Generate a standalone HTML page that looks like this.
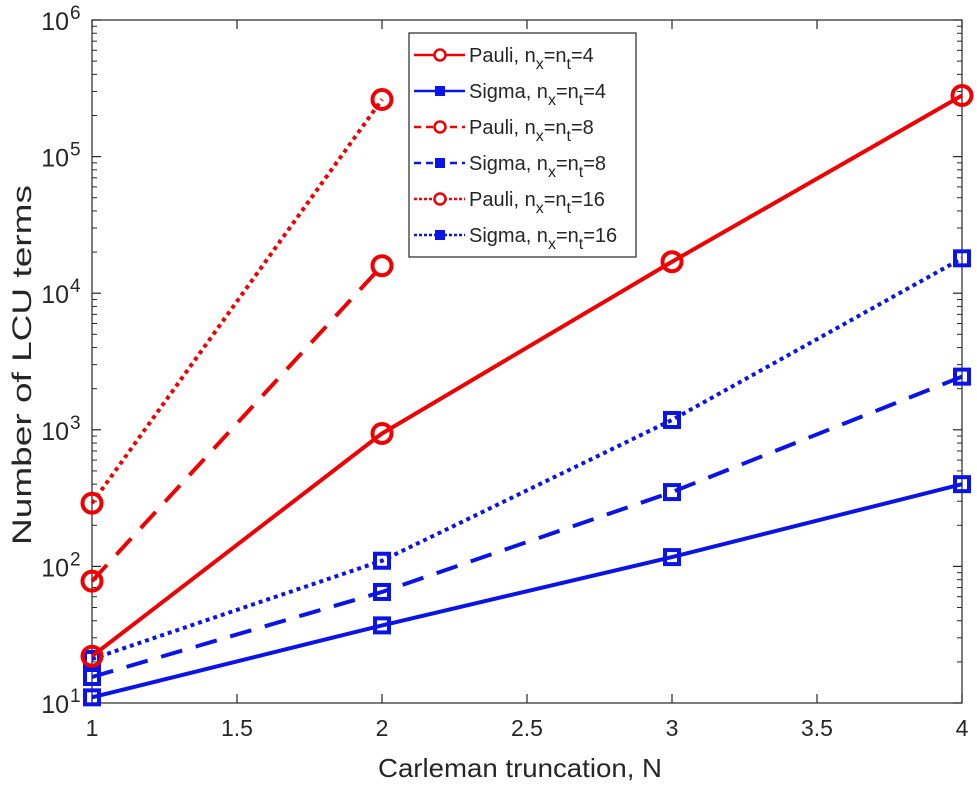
<!DOCTYPE html>
<html><head><meta charset="utf-8"><style>
html,body{margin:0;padding:0;background:#fff;}
svg{display:block;font-family:"Liberation Sans",Arial,sans-serif;}
</style></head><body>
<svg id="chart" width="977" height="785" viewBox="0 0 977 785" xmlns="http://www.w3.org/2000/svg"></svg>
<script>
const xValues = [1, 2, 3, 4];
const pauli4 = [22, 940, 17000, 280000];
const sigma4 = [11, 37, 117, 400];
const pauli8 = [78, 15900];
const sigma8 = [15.5, 65, 350, 2450];
const pauli16 = [290, 262000];
const sigma16 = [21, 110, 1180, 18000];
const xTicks = [1, 1.5, 2, 2.5, 3, 3.5, 4];
const yDecades = [1, 2, 3, 4, 5, 6];

const L = 92, R = 962, T = 20, B = 703;
const NS = "http://www.w3.org/2000/svg";
const svg = document.getElementById('chart');
function xs(v){ return L + (v - 1) / 3 * (R - L); }
function ys(v){ return B - (Math.log10(v) - 1) / 5 * (B - T); }
function el(tag, attrs, parent){
  const e = document.createElementNS(NS, tag);
  for (const k in attrs) e.setAttribute(k, attrs[k]);
  (parent || svg).appendChild(e);
  return e;
}

const box = el('rect', {x:L, y:T, width:R-L, height:B-T, fill:'none', stroke:'#262626', 'stroke-width':1.2});



xTicks.forEach(t => {
  const x = xs(t);
  el('line', {x1:x, y1:B, x2:x, y2:B-9, stroke:'#262626', 'stroke-width':1.2});
  el('line', {x1:x, y1:T, x2:x, y2:T+9, stroke:'#262626', 'stroke-width':1.2});
  const tx = el('text', {x:x, y:B+33, 'font-size':23, fill:'#262626', 'text-anchor':'middle'});
  tx.textContent = String(t);
  
  
});

yDecades.forEach(d => {
  const y = ys(Math.pow(10, d));
  el('line', {x1:L, y1:y, x2:L+9, y2:y, stroke:'#262626', 'stroke-width':1.2});
  el('line', {x1:R, y1:y, x2:R-9, y2:y, stroke:'#262626', 'stroke-width':1.2});
  if (d < 6) {
    for (let m = 2; m <= 9; m++) {
      const ym = ys(m * Math.pow(10, d));
      el('line', {x1:L, y1:ym, x2:L+5, y2:ym, stroke:'#262626', 'stroke-width':1});
      el('line', {x1:R, y1:ym, x2:R-5, y2:ym, stroke:'#262626', 'stroke-width':1});
    }
  }
  const tx = el('text', {x:L-23, y:y+10, 'font-size':25, fill:'#262626', 'text-anchor':'end'});
  tx.textContent = '10';
  
  
  const sup = el('text', {x:L-22, y:y-1, 'font-size':19, fill:'#262626'});
  sup.textContent = String(d);
});

const xt = el('text', {x:520, y:777, 'font-size':26, fill:'#262626', 'text-anchor':'middle', textLength:284, lengthAdjust:'spacingAndGlyphs'});
xt.textContent = 'Carleman truncation, N';


const yt = el('text', {x:0, y:0, 'font-size':27, fill:'#262626', 'text-anchor':'middle', textLength:360, lengthAdjust:'spacingAndGlyphs', transform:'translate(31,365) rotate(-90)'});
yt.textContent = 'Number of LCU terms';



const RED = '#f00000', BLUE = '#0a14e6';
function series(vals, color, dash, marker, name){
  const g = el('g', {});
  
  
  const pts = vals.map((v, i) => xs(xValues[i]) + ',' + ys(v)).join(' ');
  el('polyline', {points:pts, fill:'none', stroke:color, 'stroke-width':4, 'stroke-dasharray':dash}, g);
  vals.forEach((v, i) => {
    const cx = xs(xValues[i]), cy = ys(v);
    let m;
    if (marker === 'o') m = el('circle', {cx:cx, cy:cy, r:9.5, fill:'none', stroke:color, 'stroke-width':4}, g);
    else m = el('rect', {x:cx-7, y:cy-7, width:14, height:14, fill:'none', stroke:color, 'stroke-width':4}, g);
    
    
  });
}
series(sigma4, BLUE, 'none', 's', 'series-sigma-4');
series(sigma8, BLUE, '22 14', 's', 'series-sigma-8');
series(sigma16, BLUE, '4 4', 's', 'series-sigma-16');
series(pauli4, RED, 'none', 'o', 'series-pauli-4');
series(pauli8, RED, '22 14', 'o', 'series-pauli-8');
series(pauli16, RED, '4 4', 'o', 'series-pauli-16');

const lg = el('g', {});


el('rect', {x:409, y:33, width:227, height:224, fill:'#fff', stroke:'#262626', 'stroke-width':1.2}, lg);
const entries = [
  ['Pauli', '4', RED, 'none', 'o'],
  ['Sigma', '4', BLUE, 'none', 's'],
  ['Pauli', '8', RED, '7 5', 'o'],
  ['Sigma', '8', BLUE, '7 5', 's'],
  ['Pauli', '16', RED, '3 2', 'o'],
  ['Sigma', '16', BLUE, '3 2', 's']
];
entries.forEach((e, i) => {
  const y = 55 + i * 36;
  const g = el('g', {}, lg);
  
  
  el('line', {x1:414, y1:y, x2:465, y2:y, stroke:e[2], 'stroke-width':2.5, 'stroke-dasharray':e[3]}, g);
  if (e[4] === 'o') el('circle', {cx:440, cy:y, r:5.5, fill:'#fff', stroke:e[2], 'stroke-width':2.5}, g);
  else el('rect', {x:435, y:y-5, width:10, height:10, fill:e[2]}, g);
  const t = el('text', {x:469, y:y+7, 'font-size':20, fill:'#262626'}, g);
  t.innerHTML = e[0] + ', n<tspan dy="7" font-size="16">x</tspan><tspan dy="-7">=n</tspan><tspan dy="7" font-size="16">t</tspan><tspan dy="-7">=' + e[1] + '</tspan>';
});
</script>
</body></html>
